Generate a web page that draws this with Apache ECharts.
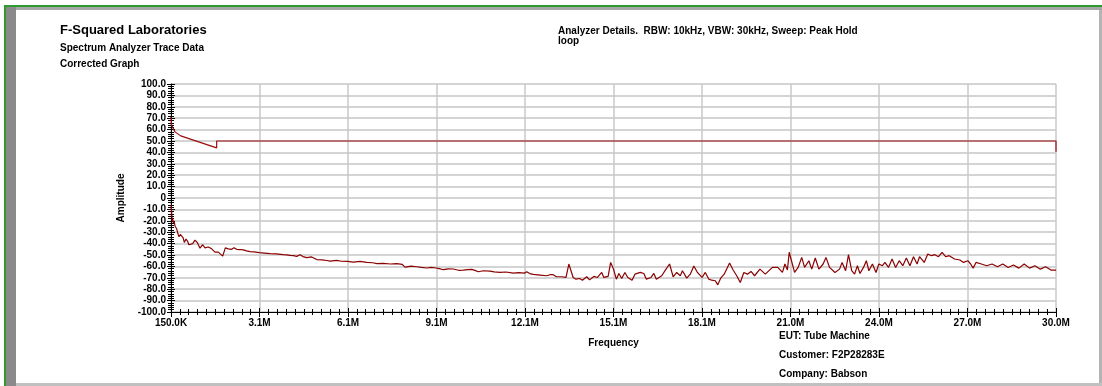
<!DOCTYPE html>
<html>
<head>
<meta charset="utf-8">
<script src="https://cdn.jsdelivr.net/npm/echarts@6/dist/echarts.min.js"></script>
<style>
html,body{margin:0;padding:0;background:#fff;}
#chart{width:1102px;height:386px;}
</style>
</head>
<body>
<div id="chart"></div>
<script>
// ---- data ----
const xTickLabels = ['150.0K','3.1M','6.1M','9.1M','12.1M','15.1M','18.1M','21.0M','24.0M','27.0M','30.0M'];
const yMin = -100, yMax = 100, yStep = 10;

const limitFreq = [0.15, 0.17, 0.285, 0.477, 1.69, 1.69, 30.0, 30.0];
const limitAmp  = [71, 63.8, 58, 54.5, 44, 50, 50, 40.5];

const traceFreq = [
0.15,0.17,0.19,0.207,0.23,0.251,0.29,0.342,0.38,0.42,0.464,0.531,0.56,0.599,0.656,0.713,0.75,0.791,0.882,0.96,
1.037,1.128,1.219,1.297,1.408,1.523,1.634,1.745,1.803,1.894,1.982,2.083,2.197,2.275,2.366,2.48,2.589,2.7,2.815,2.95,
3.128,3.3,3.489,3.7,3.938,4.05,4.164,4.28,4.39,4.501,4.6,4.727,4.896,5.064,5.25,5.4,5.513,5.739,5.9,6.11,
6.299,6.525,6.751,6.95,7.1,7.311,7.55,7.763,7.95,8.043,8.1,8.25,8.437,8.6,8.775,8.93,9.088,9.2,9.335,9.5,
9.672,9.85,10.01,10.15,10.29,10.4,10.515,10.684,10.91,11.05,11.247,11.45,11.696,11.88,12.067,12.148,12.25,12.37,12.6,12.822,
12.934,13.027,13.148,13.328,13.473,13.569,13.63,13.714,13.81,13.931,14.027,14.172,14.268,14.412,14.533,14.677,14.75,14.894,14.979,15.075,
15.171,15.256,15.352,15.46,15.557,15.701,15.798,15.978,16.099,16.183,16.34,16.436,16.52,16.701,16.846,16.966,17.087,17.207,17.328,17.4,
17.545,17.665,17.785,17.906,18.062,18.171,18.291,18.388,18.508,18.592,18.689,18.809,18.99,19.11,19.231,19.351,19.472,19.592,19.713,19.833,
20.014,20.195,20.436,20.616,20.773,20.857,20.941,21.002,21.062,21.182,21.303,21.423,21.52,21.664,21.761,21.881,22.001,22.146,22.242,22.363,
22.544,22.7,22.785,22.905,23.001,23.11,23.206,23.302,23.387,23.507,23.604,23.688,23.808,23.929,24.025,24.146,24.23,24.35,24.471,24.591,
24.712,24.832,24.953,25.073,25.194,25.314,25.398,25.555,25.675,25.796,25.916,26.037,26.157,26.278,26.398,26.579,26.76,26.88,27.025,27.121,
27.205,27.302,27.482,27.663,27.844,28.024,28.205,28.386,28.566,28.747,28.927,29.108,29.289,29.469,29.65,29.83,29.979,30.0
];
const traceAmp = [
-6,-12,-20,-18,-22,-20,-25,-27,-31,-34,-32,-32,-35,-39,-36,-38,-41,-42,-40,-37,
-39,-44,-41,-43.7,-43,-44.6,-47.5,-47.5,-49,-51,-43.7,-44.6,-45,-43.7,-45,-45.2,-45.5,-46.4,-47,-47.3,
-47.9,-48.3,-48.8,-49.0,-49.7,-49.9,-50.3,-50.6,-51.2,-49.7,-51.4,-52.3,-51.7,-54,-54.2,-54.8,-55.3,-54.7,-55.5,-55.6,
-56.2,-55.6,-56.5,-56.8,-57.5,-57.3,-57.9,-57.6,-58.3,-60.6,-59.4,-59.8,-60.3,-60.9,-61.4,-60.8,-61.4,-61.9,-62.9,-62.1,
-62.3,-63.4,-63.2,-62.8,-62.6,-63.5,-64.7,-63.8,-64.1,-64.8,-65.3,-64.9,-65.9,-65.4,-65.9,-64.7,-66.3,-67,-67.6,-68.2,
-67.3,-67.1,-69.1,-69.1,-69.7,-57.9,-57.4,-69.7,-71.2,-70.6,-72.1,-69.1,-71.8,-68.8,-69.7,-65.3,-69.7,-68.8,-56.5,-62.4,
-71.2,-66.2,-70.6,-65.3,-69.7,-72.1,-66.8,-65.3,-66.2,-71.2,-69.7,-66.2,-71.2,-68.2,-62.4,-57.9,-69.1,-65.3,-68.2,-63.8,
-70.3,-66.8,-59.7,-65.3,-69.7,-65.3,-71.2,-72.1,-72.6,-76.2,-70.3,-66.8,-57.1,-63.2,-68.2,-74.1,-65.3,-66.8,-64.4,-68.2,
-62.4,-66.8,-60.9,-60.9,-65.3,-57.9,-63.2,-47.6,-47.6,-65.3,-60.9,-52.1,-60.9,-55,-62.4,-52.6,-62.4,-57.9,-52.1,-60.9,
-65.3,-62.4,-56.5,-63.8,-49.7,-63.8,-66.8,-59.4,-66.2,-60.9,-55,-63.8,-57.9,-65.3,-57.9,-59.4,-56.5,-60.9,-53.5,-60.9,
-55,-59.4,-52.6,-59.4,-51.5,-57.9,-51.5,-56.5,-49.1,-50.6,-49.7,-51.5,-47.6,-51.5,-50.6,-53.5,-54.4,-56.5,-55,-57.9,
-61.5,-56.5,-57.9,-59.4,-57.9,-60.3,-57.9,-60.9,-58.8,-61.5,-57.9,-61.5,-59.4,-62.4,-60.3,-63.2,-63.2,-63.5
];

// ---- chart ----
const FONT = '"Liberation Sans", Arial, sans-serif';
const lbl = {fontFamily: FONT, fontWeight: 'bold', fontSize: 10, color: '#000'};
const traceData = traceFreq.map((f, i) => [f, traceAmp[i]]);
const limitData = limitFreq.map((f, i) => [f, limitAmp[i]]);

const chart = echarts.init(document.getElementById('chart'), null, {renderer: 'canvas'});
const grid = {left: 171, right: 46, top: 84, bottom: 74, containLabel: false};

function txt(text, left, top, size) {
  return {text: text, left: left, top: top, padding: 0,
    textStyle: {fontFamily: FONT, fontWeight: 'bold', fontSize: size || 10, color: '#000'}};
}

chart.setOption({
  animation: false,
  backgroundColor: '#fff',
  title: [
    txt('F-Squared Laboratories', 60, 24, 13),
    txt('Spectrum Analyzer Trace Data', 60, 43),
    txt('Corrected Graph', 60, 59),
    txt('Analyzer Details.  RBW: 10kHz, VBW: 30kHz, Sweep: Peak Hold', 558, 26),
    txt('loop', 558, 36),
    txt('EUT: Tube Machine', 779, 331),
    txt('Customer: F2P28283E', 779, 350),
    txt('Company: Babson', 779, 369)
  ],
  graphic: [
    {type: 'rect', shape: {x: 4, y: 5, width: 1098, height: 2}, style: {fill: '#2f9a2f'}, silent: true},
    {type: 'rect', shape: {x: 6, y: 7, width: 1096, height: 3}, style: {fill: '#a6a6a6'}, silent: true},
    {type: 'rect', shape: {x: 4, y: 5, width: 2, height: 381}, style: {fill: '#2f9a2f'}, silent: true},
    {type: 'rect', shape: {x: 6, y: 7, width: 10, height: 379}, style: {fill: '#8a8a8a'}, silent: true},
    {type: 'rect', shape: {x: 1099, y: 10, width: 3, height: 376}, style: {fill: '#b4b4b4'}, silent: true},
    {type: 'rect', shape: {x: 16, y: 383, width: 1086, height: 3}, style: {fill: '#c0c0c0'}, silent: true}
  ],
  grid: grid,
  xAxis: [
    {type: 'value', min: 0.15, max: 30, show: false, gridIndex: 0},
    {type: 'value', min: 0, max: 10, interval: 1, gridIndex: 0, position: 'bottom',
     name: 'Frequency', nameLocation: 'middle', nameGap: 26, nameTextStyle: lbl,
     axisLine: {show: true, onZero: false, lineStyle: {color: '#000', width: 1}},
     axisTick: {show: true, length: 5, lineStyle: {color: '#000'}},
     minorTick: {show: true, splitNumber: 10, length: 3, lineStyle: {color: '#000'}},
     axisLabel: Object.assign({margin: 6, formatter: v => xTickLabels[Math.round(v)] || ''}, lbl),
     splitLine: {show: true, lineStyle: {color: '#c8c8c8', width: 1.5}}},
    {type: 'value', min: 0, max: 10, interval: 1, gridIndex: 0, position: 'bottom',
     axisLine: {show: false, onZero: false},
     axisTick: {show: true, inside: true, length: 4, lineStyle: {color: '#000'}},
     minorTick: {show: true, splitNumber: 10, length: 3, lineStyle: {color: '#000'}},
     axisLabel: {show: false}, splitLine: {show: false}}
  ],
  yAxis: [
    {type: 'value', min: yMin, max: yMax, interval: yStep, gridIndex: 0,
     name: 'Amplitude', nameLocation: 'middle', nameGap: 43, nameRotate: 90, nameTextStyle: lbl,
     axisLine: {show: true, onZero: false, lineStyle: {color: '#000', width: 1}},
     axisTick: {show: true, length: 4, lineStyle: {color: '#000'}},
     minorTick: {show: true, splitNumber: 5, length: 3, lineStyle: {color: '#000'}},
     axisLabel: Object.assign({margin: 5, formatter: v => v === 0 ? '0' : v.toFixed(1)}, lbl),
     splitLine: {show: true, lineStyle: {color: '#d4d4d4', width: 2}}},
    {type: 'value', min: yMin, max: yMax, interval: yStep, gridIndex: 0, position: 'left',
     axisLine: {show: false, onZero: false},
     axisTick: {show: true, inside: true, length: 4, lineStyle: {color: '#000'}},
     minorTick: {show: true, splitNumber: 5, length: 3, lineStyle: {color: '#000'}},
     axisLabel: {show: false}, splitLine: {show: false}}
  ],
  series: [
    {type: 'line', name: 'Limit', xAxisIndex: 0, yAxisIndex: 0, data: limitData,
     showSymbol: false, symbol: 'none', lineStyle: {color: '#9b0d0d', width: 1.2}, z: 3},
    {type: 'line', name: 'Trace', xAxisIndex: 0, yAxisIndex: 0, data: traceData,
     showSymbol: false, symbol: 'none', lineStyle: {color: '#8b0000', width: 1.2}, z: 3}
  ]
});
</script>
</body>
</html>
